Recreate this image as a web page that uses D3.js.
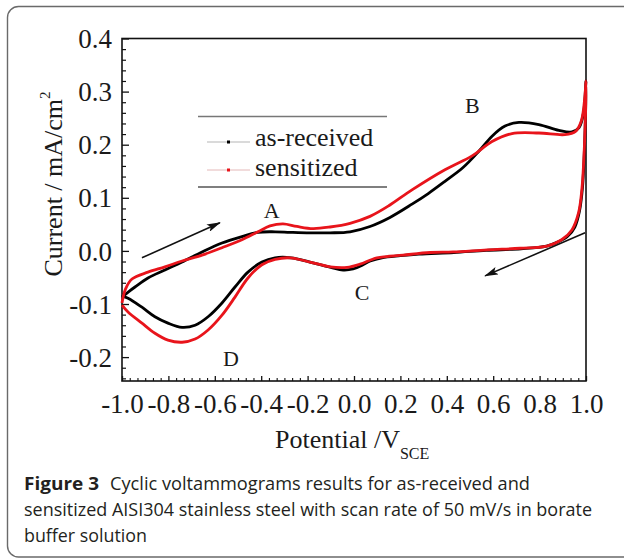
<!DOCTYPE html>
<html>
<head>
<meta charset="utf-8">
<script src="https://cdn.jsdelivr.net/npm/d3@7/dist/d3.min.js"></script>
<style>
  html, body { margin: 0; padding: 0; background: #fff; }
  svg { display: block; }
</style>
</head>
<body>
<svg id="chart" width="624" height="560"></svg>
<script>
// Cyclic voltammograms, AISI304 in borate buffer, 50 mV/s.
// Each series is one full sweep: anodic (-1.0 -> 1.0 V) then cathodic back to -1.0 V.
const seriesNames = ["as-received", "sensitized"];
const seriesColors = ["#000000", "#e8141b"];

// [potential (V vs SCE), current density (mA/cm2)]
const asReceived = [
  [-1.0,-0.087],[-0.972,-0.077],[-0.944,-0.068],[-0.888,-0.051],[-0.815,-0.036],
  [-0.741,-0.021],[-0.655,-0.002],[-0.569,0.015],[-0.483,0.027],[-0.414,0.035],
  [-0.34,0.036],[-0.276,0.035],[-0.19,0.034],[-0.103,0.034],[-0.017,0.036],
  [0.069,0.046],[0.155,0.063],[0.25,0.088],[0.32,0.108],[0.392,0.131],
  [0.47,0.157],[0.539,0.188],[0.595,0.216],[0.651,0.235],[0.711,0.242],
  [0.797,0.238],[0.883,0.227],[0.94,0.224],[0.97,0.232],[0.99,0.262],[1.0,0.32],
  [0.994,0.2],[0.985,0.12],[0.972,0.075],[0.952,0.045],[0.92,0.027],[0.88,0.017],
  [0.83,0.009],[0.72,0.004],[0.57,0.001],[0.43,-0.003],[0.28,-0.006],[0.2,-0.009],
  [0.12,-0.013],[0.07,-0.019],[0.039,-0.026],[-0.004,-0.034],[-0.047,-0.036],
  [-0.1,-0.031],[-0.19,-0.021],[-0.27,-0.013],[-0.34,-0.013],[-0.397,-0.021],
  [-0.457,-0.040],[-0.513,-0.068],[-0.569,-0.098],[-0.629,-0.124],[-0.685,-0.140],
  [-0.741,-0.144],[-0.802,-0.136],[-0.858,-0.124],[-0.914,-0.106],[-0.974,-0.089],
  [-1.0,-0.085]
];

const sensitized = [
  [-1.0,-0.098],[-0.985,-0.072],[-0.957,-0.053],[-0.888,-0.040],[-0.815,-0.030],
  [-0.741,-0.019],[-0.655,-0.008],[-0.569,0.006],[-0.483,0.021],[-0.414,0.036],
  [-0.362,0.047],[-0.306,0.051],[-0.246,0.046],[-0.177,0.042],[-0.103,0.045],
  [-0.017,0.052],[0.069,0.065],[0.15,0.085],[0.25,0.115],[0.392,0.153],
  [0.509,0.179],[0.595,0.206],[0.681,0.221],[0.797,0.222],
  [0.909,0.219],[0.955,0.225],[0.98,0.245],[0.995,0.29],[1.0,0.32],
  [0.993,0.196],[0.982,0.115],[0.968,0.072],[0.94,0.040],[0.895,0.021],
  [0.832,0.009],[0.716,0.005],[0.573,0.002],[0.427,-0.002],[0.328,-0.003],
  [0.211,-0.008],[0.099,-0.013],[0.026,-0.025],[-0.03,-0.031],[-0.103,-0.030],
  [-0.19,-0.021],[-0.276,-0.013],[-0.34,-0.016],[-0.397,-0.026],[-0.457,-0.051],
  [-0.513,-0.087],[-0.569,-0.121],[-0.629,-0.149],[-0.685,-0.166],[-0.741,-0.172],
  [-0.802,-0.168],[-0.858,-0.155],[-0.914,-0.136],[-0.974,-0.115],[-1.0,-0.102]
];

const xTickValues = [-1.0,-0.8,-0.6,-0.4,-0.2,0.0,0.2,0.4,0.6,0.8,1.0];
const xTickLabels = ["-1.0","-0.8","-0.6","-0.4","-0.2","0.0","0.2","0.4","0.6","0.8","1.0"];
const yTickValues = [-0.2,-0.1,0.0,0.1,0.2,0.3,0.4];
const yTickLabels = ["-0.2","-0.1","0.0","0.1","0.2","0.3","0.4"];

// Peak labels placed at [potential, current]
const peakLabels = [
  { text: "A", at: [-0.355, 0.062] },
  { text: "B", at: [0.51, 0.259] },
  { text: "C", at: [0.035, -0.092] },
  { text: "D", at: [-0.53, -0.216] }
];
// Sweep-direction arrows: [from, to] in [potential, current]
const sweepArrows = [
  [[-0.914, -0.013], [-0.578, 0.053]],
  [[0.996, 0.034], [0.565, -0.047]]
];

const serif = "'Liberation Serif','Times New Roman',serif";
const svg = d3.select("#chart");

// Outer figure panel
svg.append("rect")
  .attr("x", 7.5).attr("y", 6.5).attr("width", 640).attr("height", 550.5)
  .attr("rx", 11).attr("ry", 11)
  .attr("fill", "none").attr("stroke", "#6a6a6a").attr("stroke-width", 1.4);

const x = d3.scaleLinear().domain([-1.0, 1.0]).range([122, 586]);
const y = d3.scaleLinear().domain([-0.245, 0.4]).range([381, 38.5]);

// Minor ticks
const yMinor = d3.range(-24, 41, 2).map(v => v / 100).filter(v => Math.abs(v * 10 - Math.round(v * 10)) > 1e-6);
const xMinor = d3.range(0, 61).map(i => -1 + i / 30).filter(v => Math.abs(v * 5 - Math.round(v * 5)) > 1e-6);

const axisG = svg.append("g");

axisG.append("g").attr("transform", "translate(122,0)")
  .call(d3.axisLeft(y).tickValues(yMinor).tickSizeInner(-4).tickSizeOuter(0).tickFormat(""))
  .call(g => g.select(".domain").remove())
  .call(g => g.selectAll("line").attr("stroke", "#111").attr("stroke-width", 1.2));

axisG.append("g").attr("transform", "translate(0,381)")
  .call(d3.axisBottom(x).tickValues(xMinor).tickSizeInner(-3).tickSizeOuter(0).tickFormat(""))
  .call(g => g.select(".domain").remove())
  .call(g => g.selectAll("line").attr("stroke", "#111").attr("stroke-width", 1.1));

axisG.append("g").attr("transform", "translate(122,0)")
  .call(d3.axisLeft(y).tickValues(yTickValues).tickSizeInner(-7).tickSizeOuter(0).tickPadding(10)
    .tickFormat((d, i) => yTickLabels[i]))
  .call(g => g.select(".domain").remove())
  .call(g => g.selectAll("line").attr("stroke", "#111").attr("stroke-width", 1.3))
  .call(g => g.selectAll("text").attr("font-family", serif).attr("font-size", 27)
    .attr("fill", "#1a1a1a").attr("dy", "0.34em"));

axisG.append("g").attr("transform", "translate(0,381)")
  .call(d3.axisBottom(x).tickValues(xTickValues).tickSizeInner(-5).tickSizeOuter(0)
    .tickFormat((d, i) => xTickLabels[i]))
  .call(g => g.select(".domain").remove())
  .call(g => g.selectAll("line").attr("stroke", "#111").attr("stroke-width", 1.3))
  .call(g => g.selectAll("text").attr("font-family", serif).attr("font-size", 27)
    .attr("fill", "#1a1a1a").attr("y", 32).attr("dy", 0));

// Plot frame
svg.append("rect")
  .attr("x", x(-1.0)).attr("y", y(0.4))
  .attr("width", x(1.0) - x(-1.0)).attr("height", y(-0.245) - y(0.4))
  .attr("fill", "none").attr("stroke", "#111").attr("stroke-width", 1.6);

// Curves
const line = d3.line()
  .x(d => x(d[0])).y(d => y(d[1]))
  .curve(d3.curveCatmullRom.alpha(0.5));

[asReceived, sensitized].forEach((data, i) => {
  svg.append("path")
    .datum(data)
    .attr("d", line)
    .attr("fill", "none")
    .attr("stroke", seriesColors[i])
    .attr("stroke-width", 2.8)
    .attr("stroke-linejoin", "round");
});

// Arrow heads
const defs = svg.append("defs");
defs.append("marker")
  .attr("id", "head")
  .attr("viewBox", "0 0 14 8")
  .attr("refX", 13).attr("refY", 4)
  .attr("markerWidth", 14).attr("markerHeight", 8)
  .attr("markerUnits", "userSpaceOnUse")
  .attr("orient", "auto")
  .append("path").attr("d", "M0,0 L14,4 L0,8 L3,4 Z").attr("fill", "#111");

sweepArrows.forEach(([a, b]) => {
  svg.append("line")
    .attr("x1", x(a[0])).attr("y1", y(a[1]))
    .attr("x2", x(b[0])).attr("y2", y(b[1]))
    .attr("stroke", "#111").attr("stroke-width", 1.6)
    .attr("marker-end", "url(#head)");
});

// Peak labels
peakLabels.forEach(p => {
  svg.append("text")
    .attr("x", x(p.at[0])).attr("y", y(p.at[1]))
    .attr("text-anchor", "middle")
    .attr("font-family", serif).attr("font-size", 22).attr("fill", "#1a1a1a")
    .text(p.text);
});

// Legend
const legend = svg.append("g");
legend.append("line").attr("x1", 198).attr("x2", 387).attr("y1", 116.5).attr("y2", 116.5)
  .attr("stroke", "#777").attr("stroke-width", 1.6);
legend.append("line").attr("x1", 198).attr("x2", 387).attr("y1", 187).attr("y2", 187)
  .attr("stroke", "#555").attr("stroke-width", 1.6);
seriesNames.forEach((name, i) => {
  const cy = 142 + i * 28;
  legend.append("line").attr("x1", 207).attr("x2", 250).attr("y1", cy).attr("y2", cy)
    .attr("stroke", i === 0 ? "#b5b5b5" : "#e4b8b8").attr("stroke-width", 1);
  legend.append("rect").attr("x", 227).attr("y", cy - 1.5).attr("width", 3).attr("height", 3)
    .attr("fill", seriesColors[i]);
  legend.append("text").attr("x", 255).attr("y", cy + 4 + i * 2)
    .attr("font-family", serif).attr("font-size", 26).attr("fill", "#1a1a1a")
    .text(name);
});

// Axis titles
const xTitle = svg.append("text")
  .attr("x", 275).attr("y", 448)
  .attr("font-family", serif).attr("font-size", 26).attr("fill", "#1a1a1a");
xTitle.append("tspan").text("Potential /V");
xTitle.append("tspan").attr("font-size", 16).attr("dy", 11).text("SCE");

const yTitle = svg.append("text")
  .attr("transform", "translate(62,184) rotate(-90)")
  .attr("text-anchor", "middle")
  .attr("font-family", serif).attr("font-size", 26).attr("fill", "#1a1a1a");
yTitle.append("tspan").text("Current / mA/cm");
yTitle.append("tspan").attr("font-size", 15).attr("dy", -12).text("2");

// Caption
const sans = "'Open Sans','Noto Sans',sans-serif";
const cap = svg.append("g").attr("font-family", sans).attr("font-size", 17.5).attr("fill", "#231f20");
cap.append("text").attr("x", 24).attr("y", 490).attr("font-weight", "bold")
  .attr("textLength", 75).attr("lengthAdjust", "spacingAndGlyphs").text("Figure 3");
cap.append("text").attr("x", 110).attr("y", 490)
  .attr("textLength", 420).attr("lengthAdjust", "spacingAndGlyphs")
  .text("Cyclic voltammograms results for as-received and");
cap.append("text").attr("x", 24).attr("y", 516)
  .attr("textLength", 568).attr("lengthAdjust", "spacingAndGlyphs")
  .text("sensitized AISI304 stainless steel with scan rate of 50 mV/s in borate");
cap.append("text").attr("x", 24).attr("y", 542)
  .attr("textLength", 123).attr("lengthAdjust", "spacingAndGlyphs")
  .text("buffer solution");
</script>
</body>
</html>
